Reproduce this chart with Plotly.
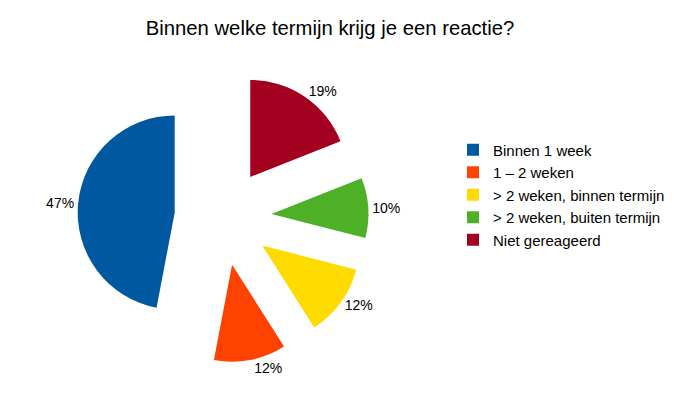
import plotly.graph_objects as go

categories = ["Binnen 1 week", "1 – 2 weken", "> 2 weken, binnen termijn",
              "> 2 weken, buiten termijn", "Niet gereageerd"]
values = [47, 12, 12, 10, 19]
colors = ["#0058a0", "#ff4200", "#ffdb00", "#4db027", "#a3001f"]

# first slice starts at 12 o'clock and runs counterclockwise
start_rotation = -values[0] / sum(values) * 360

fig = go.Figure(go.Pie(
    labels=categories,
    values=values,
    sort=False,
    direction="counterclockwise",
    rotation=start_rotation,
    pull=[0.5] * len(values),
    marker=dict(colors=colors, line=dict(width=0)),
    textinfo="percent",
    texttemplate="%{percent:.0%}",
    textposition="outside",
    textfont=dict(family="Liberation Sans, Arial", size=14, color="#000000"),
    domain=dict(x=[69.5 / 681, 360.5 / 681], y=[38.5 / 393, 329.5 / 393]),
    hoverinfo="label+percent",
))

fig.update_layout(
    width=681,
    height=393,
    margin=dict(l=0, r=0, t=0, b=0, autoexpand=False),
    paper_bgcolor="white",
    plot_bgcolor="white",
    title=dict(
        text="Binnen welke termijn krijg je een reactie?",
        x=322 / 681, xanchor="center",
        y=1 - 20 / 393, yanchor="middle",
        font=dict(family="Liberation Sans, Arial", size=20.3, color="#000000"),
    ),
    legend=dict(
        x=445 / 681, xanchor="left",
        y=1 - 187 / 393, yanchor="middle",
        font=dict(family="Liberation Sans, Arial", size=15, color="#000000"),
        tracegroupgap=0,
        bgcolor="rgba(0,0,0,0)",
    ),
    showlegend=True,
)

fig.write_html("out.html")
